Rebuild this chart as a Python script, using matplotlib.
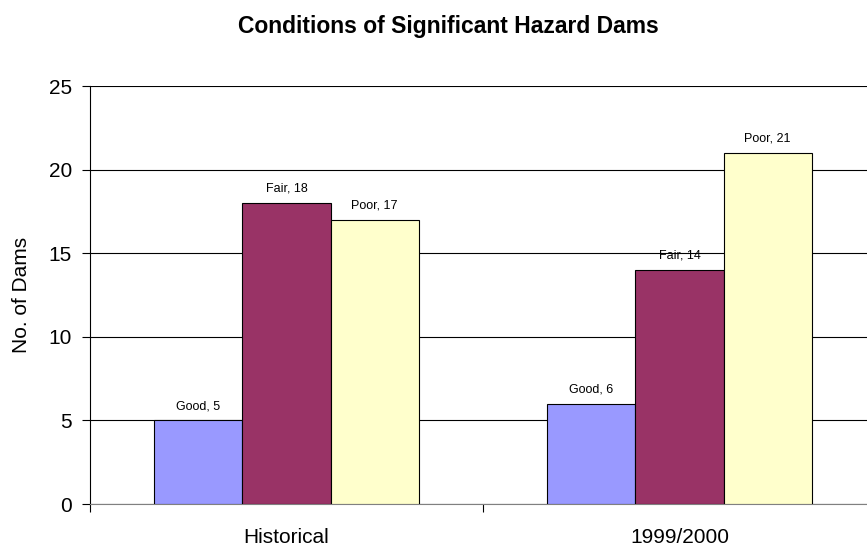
import matplotlib.pyplot as plt
import numpy as np

categories = ['Historical', '1999/2000']
conditions = ['Good', 'Fair', 'Poor']
good = [5, 6]
fair = [18, 14]
poor = [17, 21]
colors = ['#9999FF', '#993366', '#FFFFCC']

plt.rcParams['font.family'] = ['Liberation Sans', 'DejaVu Sans']

fig = plt.figure(figsize=(8.67, 5.48), dpi=100)
ax = fig.add_axes([90 / 867, 44 / 548, 786 / 867, 418 / 548])

x = np.arange(len(categories))
w = 0.224
for i, (vals, name) in enumerate(zip([good, fair, poor], conditions)):
    pos = x + (i - 1) * w
    ax.bar(pos, vals, width=w, color=colors[i], edgecolor='black', linewidth=0.8, zorder=3)
    for p, v in zip(pos, vals):
        ax.annotate(f'{name}, {v}', (p, v), xytext=(0, 6), textcoords='offset points',
                    ha='center', va='bottom', fontsize=9, zorder=4)

ax.set_xlim(-0.5, len(categories) - 0.5)
ax.set_ylim(0, 25)
ax.set_yticks(np.arange(0, 26, 5))
ax.yaxis.grid(True, color='black', linewidth=0.8, zorder=0)
ax.tick_params(axis='y', direction='out', length=6, labelsize=15, pad=7)

# category boundaries as major ticks, names on minor ticks
ax.set_xticks(np.arange(-0.5, len(categories), 1.0))
ax.set_xticklabels([])
ax.set_xticks(x, minor=True)
ax.set_xticklabels(categories, minor=True)
ax.tick_params(axis='x', which='major', direction='out', length=6)
ax.tick_params(axis='x', which='minor', length=0, labelsize=15, pad=17)

for s in ['top', 'right']:
    ax.spines[s].set_visible(False)
ax.spines['bottom'].set_color('gray')

ax.set_ylabel('No. of Dams', fontsize=15, labelpad=13)
fig.text(0.517, 0.951, 'Conditions of Significant Hazard Dams', ha='center', va='center',
         fontsize=16.5, fontweight='bold')

fig.savefig('out.png', dpi=100)
